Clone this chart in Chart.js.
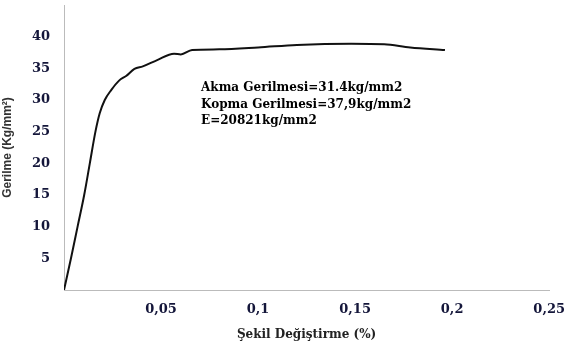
<!DOCTYPE html>
<html><head><meta charset="utf-8">
<script src="https://cdn.jsdelivr.net/npm/chart.js@4/dist/chart.umd.min.js"></script>
<style>html,body{margin:0;padding:0;background:#fff}#wrap{width:573px;height:345px}</style>
</head><body><div id="wrap"><canvas id="c" width="573" height="345"></canvas></div>
<script>
const strainX = [0, 0.0036, 0.0070, 0.0104, 0.0133, 0.0162, 0.0184, 0.0210, 0.0244, 0.0285, 0.0320, 0.0363, 0.0406, 0.0480, 0.0567, 0.0602, 0.0660, 0.0800, 0.1000, 0.1200, 0.1480, 0.1650, 0.1784, 0.1963];
const stressY = [0, 5, 10, 15, 20, 25, 27.9, 30, 31.6, 33.1, 33.8, 34.9, 35.3, 36.3, 37.3, 37.2, 37.9, 38.0, 38.3, 38.7, 38.9, 38.8, 38.3, 37.9];
const annotationLines = ["Akma Gerilmesi=31.4kg/mm2", "Kopma Gerilmesi=37,9kg/mm2", "E=20821kg/mm2"];
const yTickValues = [5, 10, 15, 20, 25, 30, 35, 40];
const xTitle = "Şekil Değiştirme (%)";
const yTitle = "Gerilme (Kg/mm²)";

const points = strainX.map((x, i) => ({x: x, y: stressY[i]}));
const tickColor = "#14163a";
const serif = "'DejaVu Serif', 'Liberation Serif', serif";

const annot = {
  id: 'annot',
  afterDraw(chart) {
    const ctx = chart.ctx;
    ctx.save();
    ctx.font = "bold 12px " + serif;
    ctx.fillStyle = "#000";
    ctx.textBaseline = "middle";
    ctx.textAlign = "left";
    annotationLines.forEach((t, i) => ctx.fillText(t, 201, 88 + i * 16.5));
    ctx.restore();
  }
};

new Chart(document.getElementById('c'), {
  type: 'line',
  data: { datasets: [{ data: points, borderColor: '#111', borderWidth: 2, pointRadius: 0, fill: false, cubicInterpolationMode: 'monotone' }] },
  options: {
    responsive: false, animation: false,
    layout: { padding: { top: 5, right: 20, left: 0, bottom: 0 } },
    plugins: { legend: { display: false }, tooltip: { enabled: false } },
    scales: {
      x: {
        type: 'linear', min: 0, max: 0.25,
        grid: { display: false, drawTicks: true, tickLength: 4, color: '#bbb' },
        border: { color: '#bbb', width: 1 },
        ticks: { stepSize: 0.05, color: tickColor, padding: 8, maxRotation: 0,
          font: { family: serif, weight: 'bold', size: 13 },
          callback: v => v === 0 ? '' : String(+v.toFixed(2)).replace('.', ',') },
        title: { display: true, text: xTitle, color: '#222', padding: { top: 4, bottom: 3 },
          font: { family: serif, weight: 'bold', size: 12 } },
        afterFit: s => { s.height = 55; s.paddingLeft = 0; }
      },
      y: {
        min: 0, max: 45,
        grid: { display: false, drawTicks: true, tickLength: 4, color: '#bbb' },
        border: { color: '#bbb', width: 1 },
        afterBuildTicks: s => { s.ticks = yTickValues.map(v => ({ value: v })); },
        ticks: { color: tickColor, padding: 10,
          font: { family: serif, weight: 'bold', size: 13 } },
        title: { display: true, text: yTitle, color: '#333', padding: 0,
          font: { family: "'Liberation Sans', Arial, sans-serif", weight: 'bold', size: 12 } },
        afterFit: s => { s.width = 64; s.paddingTop = 0; s.paddingBottom = 0; }
      }
    }
  },
  plugins: [annot]
});
</script></body></html>
